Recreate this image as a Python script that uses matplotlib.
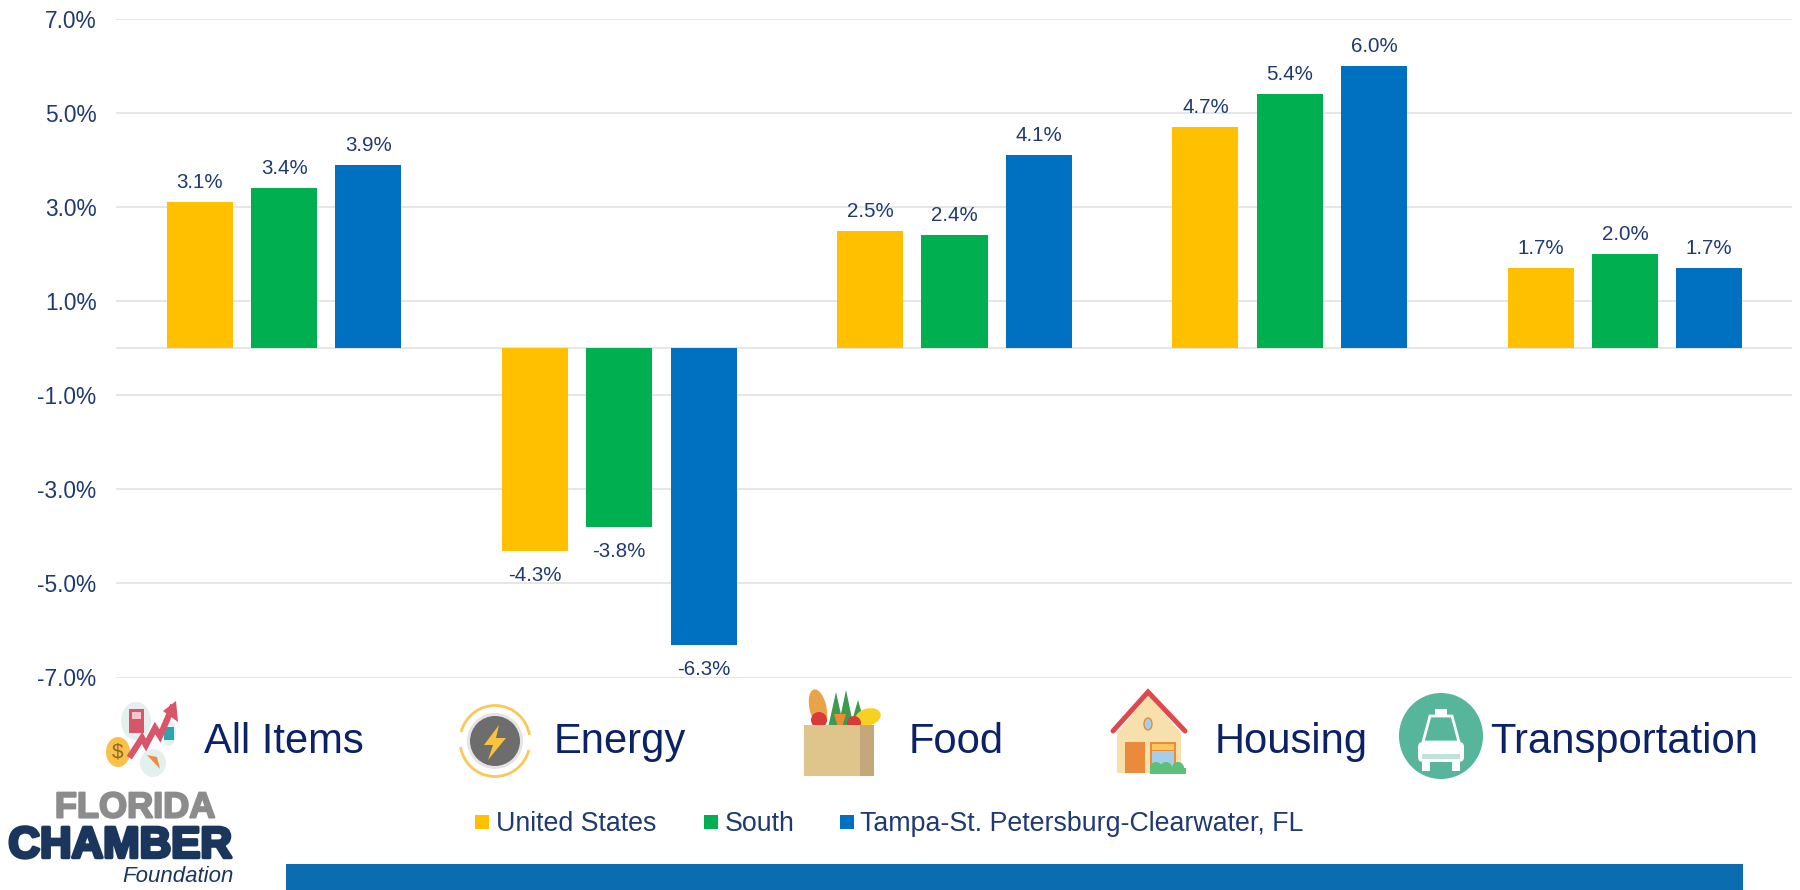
import matplotlib
matplotlib.use("Agg")
import matplotlib.pyplot as plt
import matplotlib.patheffects as pe
from matplotlib.patches import Rectangle, Circle, Ellipse, Polygon, Arc, FancyBboxPatch
import numpy as np

plt.rcParams['font.family'] = ['Liberation Sans', 'DejaVu Sans']

# define the data
categories = ["All Items", "Energy", "Food", "Housing", "Transportation"]
series_names = ["United States", "South", "Tampa-St. Petersburg-Clearwater, FL"]
united_states = [3.1, -4.3, 2.5, 4.7, 1.7]
south = [3.4, -3.8, 2.4, 5.4, 2.0]
tampa = [3.9, -6.3, 4.1, 6.0, 1.7]
y_ticks = [-7, -5, -3, -1, 1, 3, 5, 7]

W, H = 1800, 890
AXES_LEFT, AXES_RIGHT, AXES_TOP, AXES_BOTTOM = 116, 1792, 19, 677.5
TICK_COLOR = "#1F3A73"
LABEL_COLOR = "#0B2265"
COLORS = ["#FFC000", "#00B050", "#0070C0"]

fig = plt.figure(figsize=(18, 8.9), dpi=100)
ax = fig.add_axes([AXES_LEFT / W, 1 - AXES_BOTTOM / H,
                   (AXES_RIGHT - AXES_LEFT) / W, (AXES_BOTTOM - AXES_TOP) / H])

# bars
x = np.arange(len(categories))
step = 0.2515
width = 0.197
for i, values in enumerate([united_states, south, tampa]):
    offset = (i - 1) * step
    bars = ax.bar(x + offset, values, width, color=COLORS[i], zorder=3)
    for bar, v in zip(bars, values):
        ax.annotate(f"{v:.1f}%", (bar.get_x() + bar.get_width() / 2, v),
                    xytext=(0, 14 if v > 0 else -18), textcoords="offset points",
                    ha="center", va="center", fontsize=14.8, color=TICK_COLOR)

ax.set_xlim(-0.5015, 4.4985)
ax.set_ylim(-7, 7)
ax.set_xticks([])
ax.set_yticks(y_ticks)
ax.set_yticklabels([f"{t:.1f}%" for t in y_ticks], fontsize=16.4, color=TICK_COLOR)
ax.tick_params(axis="y", length=0, pad=14)
ax.grid(axis="y", color="#DFDFDF", linewidth=1.1, zorder=0)
ax.axhline(0, color="#DFDFDF", linewidth=1.1, zorder=1)
for side in ax.spines.values():
    side.set_visible(False)

# overlay in pixel coordinates for the labels, icons, legend and logo
ov = fig.add_axes([0, 0, 1, 1], facecolor="none")
ov.set_xlim(0, W)
ov.set_ylim(H, 0)
ov.axis("off")

# category labels
label_x = [204, 554, 909, 1215, 1490]
for name, lx in zip(categories, label_x):
    ov.text(lx, 742, name, fontsize=30.1, color=LABEL_COLOR, ha="left", va="center")

# legend
swatch_x = [475, 704, 840]
text_x = [496, 725, 860]
for c, name, sx, tx in zip(COLORS, series_names, swatch_x, text_x):
    ov.add_patch(Rectangle((sx, 815), 14, 14, color=c, lw=0))
    ov.text(tx, 824, name, fontsize=19.3, color=TICK_COLOR, ha="left", va="center")

# bottom band
ov.add_patch(Rectangle((286, 864), 1457, 26, color="#0B6CB0", lw=0))

# all items icon
ov.add_patch(Ellipse((136, 721), 30, 38, color="#E3F0EE", lw=0))
ov.add_patch(Rectangle((129, 709), 15, 24, color="#D9556A", lw=0))
ov.add_patch(Rectangle((132, 712), 9, 7, color="#F3C9CF", lw=0))
ov.add_patch(Ellipse((169, 733), 14, 26, color="#E3F0EE", lw=0))
ov.add_patch(Rectangle((164, 727), 10, 13, color="#2BA6B0", lw=0))
ov.add_patch(Ellipse((118, 752), 24, 30, color="#F9C04A", lw=0))
ov.text(118, 752, "$", fontsize=15, color="#8A6A2A", ha="center", va="center")
ov.add_patch(Ellipse((153, 763), 26, 28, color="#E3F0EE", lw=0))
ov.add_patch(Polygon([(147, 755), (157, 757), (160, 769)], color="#EE8B45", lw=0))
ov.plot([131, 142, 146, 155, 160, 172], [755, 738, 745, 728, 736, 708],
        color="#D9556A", lw=4.5, solid_joinstyle="miter")
ov.add_patch(Polygon([(176, 701), (178, 722), (163, 711)], color="#D9556A", lw=0))

# energy icon
ov.add_patch(Arc((495, 741), 70, 71, theta1=15, theta2=170, color="#FBC75A", lw=2))
ov.add_patch(Arc((495, 741), 70, 71, theta1=195, theta2=350, color="#FBC75A", lw=2))
ov.add_patch(Circle((495, 741), 28, color="#E4E4E4", lw=0))
ov.add_patch(Circle((495, 741), 25, color="#6D6D6D", lw=0))
ov.add_patch(Polygon([(499, 725), (484, 745), (493, 745), (488, 760), (506, 738),
                      (496, 738)], color="#F8C33E", lw=0))

# food icon
ov.add_patch(Ellipse((818, 708), 17, 38, angle=-12, color="#E9A44A", lw=0))
for vx, vtop in [(836, 692), (846, 690), (858, 700)]:
    ov.add_patch(Polygon([(vx - 8, 728), (vx, vtop), (vx + 8, 728)], color="#3E9A4E", lw=0))
ov.add_patch(Ellipse((868, 717), 26, 17, angle=-15, color="#F6D11F", lw=0))
ov.add_patch(Circle((819, 720), 8, color="#D93A3A", lw=0))
ov.add_patch(Circle((854, 723), 7, color="#D93A3A", lw=0))
ov.add_patch(Polygon([(834, 714), (846, 714), (840, 734)], color="#EE8B35", lw=0))
ov.add_patch(Rectangle((804, 725), 70, 51, color="#DFC48C", lw=0))
ov.add_patch(Rectangle((860, 725), 14, 51, color="#C4A77A", lw=0))

# house icon
ov.add_patch(Polygon([(1117, 733), (1148, 695), (1181, 733), (1181, 773), (1117, 773)],
                     color="#F7E0AC", lw=0))
ov.plot([1113, 1148, 1185], [731, 692, 731], color="#E0484C", lw=3.6,
        solid_capstyle="round", solid_joinstyle="miter")
ov.add_patch(Ellipse((1148, 724), 8, 12, facecolor="#A5CFE8", edgecolor="#E98A3C", lw=1))
ov.add_patch(Rectangle((1125, 742), 20, 31, color="#EB8A3A", lw=0))
ov.add_patch(Rectangle((1150, 742), 26, 27, color="#EB8A3A", lw=0))
ov.add_patch(Rectangle((1152, 751), 22, 16, color="#A5CFE8", lw=0))
ov.add_patch(Rectangle((1152, 744), 22, 6, color="#FBC75A", lw=0))
for gx in [1156, 1166, 1178]:
    ov.add_patch(Circle((gx, 768), 6, color="#5CBF7A", lw=0))
ov.add_patch(Rectangle((1150, 768), 36, 6, color="#5CBF7A", lw=0))

# transportation icon
ov.add_patch(Ellipse((1441, 736), 84, 86, color="#57B59B", lw=0))
ov.add_patch(Rectangle((1435, 709), 12, 7, color="white", lw=0))
ov.add_patch(Polygon([(1423, 742), (1430, 716), (1452, 716), (1459, 742)],
                     facecolor="#57B59B", edgecolor="white", lw=2))
ov.add_patch(FancyBboxPatch((1418, 742), 46, 20, boxstyle="round,pad=0,rounding_size=5",
                            color="white", lw=0))
ov.add_patch(Rectangle((1422, 754), 38, 5, color="#BFE3D8", lw=0))
ov.add_patch(Rectangle((1422, 762), 8, 9, color="white", lw=0))
ov.add_patch(Rectangle((1452, 762), 8, 9, color="white", lw=0))

# logo
ov.text(135, 808, "FLORIDA", fontsize=26, fontweight="bold", color="#8C8C8C",
        ha="center", va="center",
        path_effects=[pe.withStroke(linewidth=1.5, foreground="#8C8C8C")])
ov.text(120, 846, "CHAMBER", fontsize=31.5, fontweight="bold", color="#1B365D",
        ha="center", va="center",
        path_effects=[pe.withStroke(linewidth=2.5, foreground="#1B365D")])
ov.text(234, 877, "Foundation", fontsize=16, style="italic", color="#1B365D",
        ha="right", va="center")

fig.savefig("out.png", dpi=100)
